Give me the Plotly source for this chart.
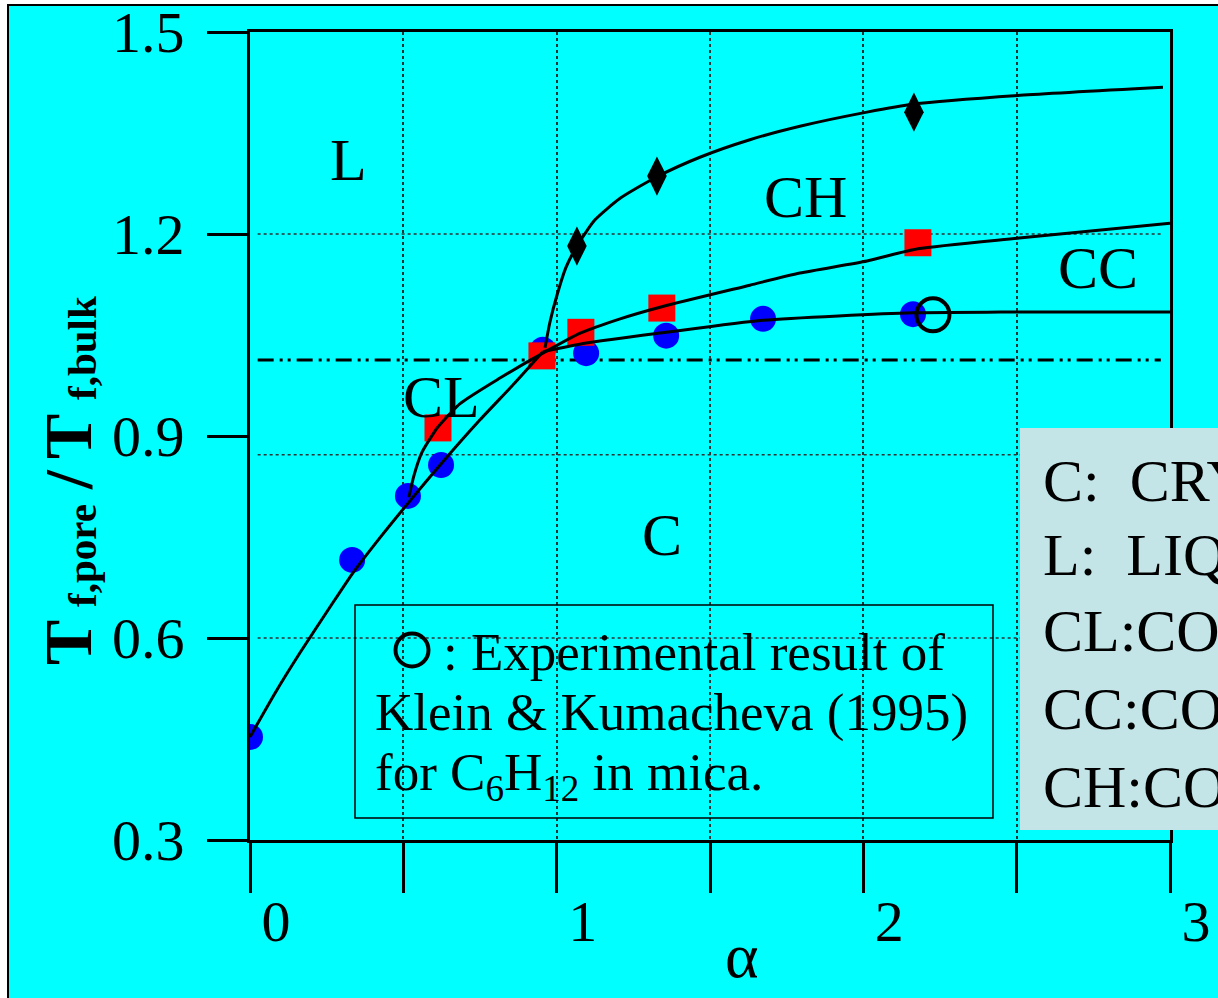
import plotly.graph_objects as go

# ---------------- data ----------------
x_ticks = [0, 0.5, 1, 1.5, 2, 2.5, 3]
x_ticktext = ["0", "", "1", "", "2", "", "3"]
y_ticks = [0.3, 0.6, 0.9, 1.2, 1.5]
y_ticktext = ["0.3", "0.6", "0.9", "1.2", "1.5"]

blue_x = [0, 0.333, 0.515, 0.623, 0.955, 1.096, 1.357, 1.673, 2.162]
blue_y = [0.453, 0.716, 0.811, 0.857, 1.028, 1.023, 1.049, 1.074, 1.081]

red_x = [0.613, 0.952, 1.079, 1.343, 2.178]
red_y = [0.912, 1.019, 1.054, 1.090, 1.187]

dia_x = [1.066, 1.327, 2.165]
dia_y = [1.182, 1.286, 1.381]

exp_x = [2.227]
exp_y = [1.080]

# phase boundary curves
c_rise_x = [0, 0.0815, 0.163, 0.261, 0.333, 0.424, 0.515, 0.620, 0.750, 0.864, 0.955]
c_rise_y = [0.453, 0.518, 0.578, 0.646, 0.695, 0.749, 0.800, 0.857, 0.924, 0.979, 1.025]
c_flat_x = [0.955, 1.096, 1.357, 1.673, 2.162, 2.446, 3.0]
c_flat_y = [1.025, 1.038, 1.054, 1.072, 1.083, 1.084, 1.084]

cl_curve_x = [0.518, 0.535, 0.561, 0.610]
cl_curve_y = [0.809, 0.842, 0.876, 0.912]

cc_curve_x = [0.610, 0.685, 0.815, 0.955, 1.079, 1.207, 1.343, 1.630, 1.793, 2.012, 2.178, 2.508, 3.0]
cc_curve_y = [0.912, 0.948, 0.986, 1.023, 1.053, 1.074, 1.092, 1.124, 1.142, 1.160, 1.178, 1.194, 1.216]

ch_curve_x = [0.962, 0.978, 1.001, 1.030, 1.066, 1.125, 1.207, 1.327, 1.467, 1.630, 1.793, 2.012, 2.165, 2.511, 2.977]
ch_curve_y = [1.031, 1.069, 1.109, 1.150, 1.182, 1.221, 1.253, 1.285, 1.314, 1.340, 1.360, 1.381, 1.393, 1.406, 1.418]

h_grid = [1.2, 0.872, 0.6]
ref_line = 1.013

phase_labels = ["L", "CH", "CC", "CL", "C"]
phase_x = [0.320, 1.813, 2.765, 0.626, 1.343]
phase_y = [1.310, 1.255, 1.150, 0.958, 0.753]

key_lines = ["C:\u00a0\u00a0CRYSTAL", "L:\u00a0\u00a0LIQUID", "CL:CONTACT LAYER LIQUID",
             "CC:CONTACT LAYER CRYSTAL", "CH:CONTACT LAYER HEXATIC"]

note_lines = [": Experimental result of",
              "Klein &amp; Kumacheva (1995)",
              "for C<sub>6</sub>H<sub>12</sub> in mica."]

# ---------------- styling ----------------
FONT = "Liberation Serif"
CYAN = "#00FFFF"

W, H = 1218, 998
ML, MR, MT, MB = 250, 48, 32, 158
PW, PH = W - ML - MR, H - MT - MB


def px_x(p):
    return (p - ML) / PW


def px_y(p):
    return 1 - (p - MT) / PH


fig = go.Figure()

# markers
fig.add_trace(go.Scatter(x=blue_x, y=blue_y, mode="markers",
                         marker=dict(symbol="circle", size=26, color="#0000FF"),
                         showlegend=False))
fig.add_trace(go.Scatter(x=red_x, y=red_y, mode="markers",
                         marker=dict(symbol="square", size=27, color="#FF0000"),
                         showlegend=False))
fig.add_trace(go.Scatter(x=dia_x, y=dia_y, mode="markers",
                         marker=dict(symbol="diamond-tall", size=28, color="black"),
                         showlegend=False))

# curves
for cx, cy in [(c_rise_x, c_rise_y), (c_flat_x, c_flat_y), (cl_curve_x, cl_curve_y),
               (cc_curve_x, cc_curve_y), (ch_curve_x, ch_curve_y)]:
    fig.add_trace(go.Scatter(x=cx, y=cy, mode="lines",
                             line=dict(color="black", width=3, shape="spline", smoothing=0.6),
                             showlegend=False))

# experimental point
fig.add_trace(go.Scatter(x=exp_x, y=exp_y, mode="markers",
                         marker=dict(symbol="circle-open", size=33, color="black",
                                     line=dict(width=4, color="black")),
                         showlegend=False))

# legend-key circle inside the note box
fig.add_trace(go.Scatter(x=[px_x(412) * 3], y=[0.3 + px_y(650) * 1.2], mode="markers",
                         marker=dict(symbol="circle-open", size=33, color="black",
                                     line=dict(width=4, color="black")),
                         showlegend=False, cliponaxis=False))

shapes = []
# outer slide background + border
shapes.append(dict(type="rect", xref="paper", yref="paper",
                   x0=px_x(8), x1=px_x(1240), y0=px_y(1010), y1=px_y(5),
                   fillcolor=CYAN, line=dict(color="black", width=2), layer="below"))
# horizontal dotted grid lines
for gy in h_grid:
    shapes.append(dict(type="line", xref="x", yref="y", x0=0.025, x1=2.97, y0=gy, y1=gy,
                       line=dict(color="#333333", width=1.5, dash="dot"), layer="below"))
# dash-dot reference line
shapes.append(dict(type="line", xref="x", yref="y", x0=0.025, x1=2.97, y0=ref_line, y1=ref_line,
                   line=dict(color="black", width=3, dash="16px,6px,3px,5px,3px,6px"),
                   layer="below"))
# experimental note box
shapes.append(dict(type="rect", xref="paper", yref="paper",
                   x0=px_x(355), x1=px_x(993), y0=px_y(818), y1=px_y(605),
                   line=dict(color="black", width=1.5), fillcolor="rgba(0,0,0,0)"))
# phase key box
shapes.append(dict(type="rect", xref="paper", yref="paper",
                   x0=px_x(1020), x1=px_x(1250), y0=px_y(830), y1=px_y(428),
                   line=dict(width=0), fillcolor="#C4E5E8", layer="above"))

annotations = []
for t, ax_, ay_ in zip(phase_labels, phase_x, phase_y):
    annotations.append(dict(x=ax_, y=ay_, xref="x", yref="y", text=t, showarrow=False,
                            xanchor="center", yanchor="middle",
                            font=dict(family=FONT, size=60, color="black")))

note_pos = [(441, 652), (373, 712), (373, 776)]
for t, (lx, ly) in zip(note_lines, note_pos):
    annotations.append(dict(x=px_x(lx), y=px_y(ly), xref="paper", yref="paper", text=t,
                            showarrow=False, xanchor="left", yanchor="middle",
                            font=dict(family=FONT, size=53, color="black")))

key_y = [481, 555, 631, 709, 787]
for t, ky in zip(key_lines, key_y):
    annotations.append(dict(x=px_x(1041), y=px_y(ky), xref="paper", yref="paper", text=t,
                            showarrow=False, xanchor="left", yanchor="middle",
                            font=dict(family=FONT, size=60, color="black")))

# x axis title
annotations.append(dict(x=px_x(742), y=px_y(955), xref="paper", yref="paper", text="α",
                        showarrow=False, xanchor="center", yanchor="middle",
                        font=dict(family=FONT, size=64, color="black")))
# y axis title, pieces (rotated)
ytitle_parts = [("<b>T</b>", 68, 68, 643), ("<b>f,pore</b>", 41, 82, 556),
                ("<b>/</b>", 68, 68, 480), ("<b>T</b>", 68, 68, 437),
                ("<b>f,bulk</b>", 41, 82, 348)]
for t, fs, tx, ty in ytitle_parts:
    annotations.append(dict(x=px_x(tx), y=px_y(ty), xref="paper", yref="paper", text=t,
                            textangle=-90, showarrow=False, xanchor="center", yanchor="middle",
                            font=dict(family=FONT, size=fs, color="black")))

fig.update_layout(
    width=W, height=H,
    margin=dict(l=ML, r=MR, t=MT, b=MB, pad=0, autoexpand=False),
    paper_bgcolor="white", plot_bgcolor="rgba(0,0,0,0)",
    shapes=shapes, annotations=annotations,
    showlegend=False,
)
fig.update_xaxes(range=[0, 3], tickvals=x_ticks, ticktext=x_ticktext, automargin=False,
                 ticks="outside", ticklen=50, tickwidth=3, tickcolor="black",
                 showline=True, linewidth=3, linecolor="black", mirror=True,
                 showgrid=True, gridcolor="#333333", gridwidth=1.5, griddash="dot",
                 zeroline=False, ticklabelshift=26, ticklabelstandoff=-22,
                 tickfont=dict(family=FONT, size=58, color="black"))
fig.update_yaxes(range=[0.3, 1.5], tickvals=y_ticks, ticktext=y_ticktext, automargin=False,
                 ticks="outside", ticklen=40, tickwidth=3, tickcolor="black",
                 showline=True, linewidth=3, linecolor="black", mirror=True,
                 showgrid=False, zeroline=False, ticklabelstandoff=11,
                 tickfont=dict(family=FONT, size=58, color="black"))

fig.write_html("out.html")
